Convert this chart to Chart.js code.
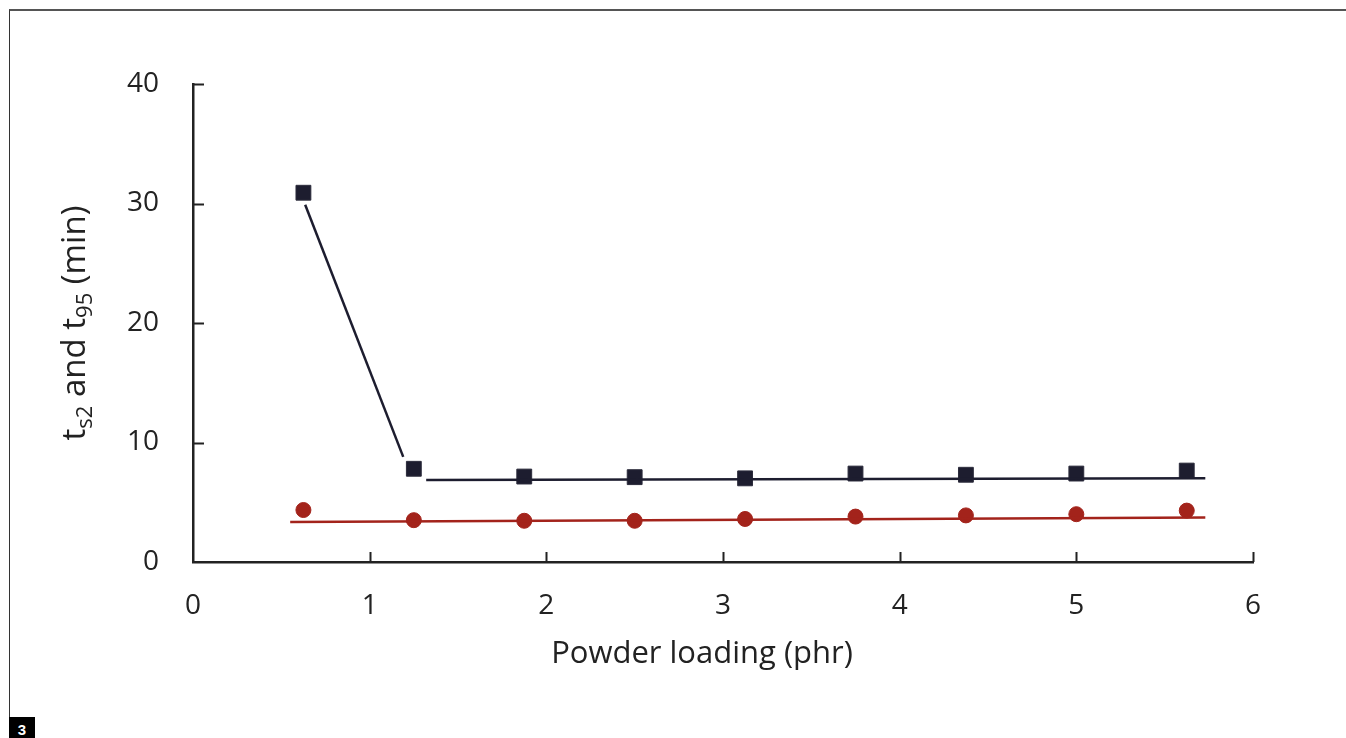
<!DOCTYPE html>
<html>
<head>
<meta charset="utf-8">
<script src="https://cdn.jsdelivr.net/npm/chart.js@4"></script>
<style>
  html, body { margin: 0; padding: 0; background: #fff; }
  #wrap { position: relative; width: 1346px; height: 738px; overflow: hidden; }
  #frame { position: absolute; left: 9px; top: 9px; width: 1400px; height: 706px;
           border-top: 2px solid #555; border-left: 1px solid #333; }
  #fig { position: absolute; left: 9px; top: 717px; width: 26px; height: 21px; background: #000;
         color: #fff; font: bold 15px "Liberation Sans", sans-serif; text-align: center; line-height: 25px; }
  canvas { position: absolute; left: 0; top: 0; }
</style>
</head>
<body>
<div id="wrap">
  <div id="frame"></div>
  <canvas id="chart" width="1346" height="738"></canvas>
  <div id="fig">3</div>
</div>
<script>
// powder loading (phr)
const loading = [0.625, 1.25, 1.875, 2.5, 3.125, 3.75, 4.375, 5, 5.625];
// t95 (squares) and ts2 (circles), minutes
const t95 = [30.9, 7.8, 7.15, 7.1, 7.0, 7.4, 7.3, 7.4, 7.65];
const ts2 = [4.35, 3.5, 3.45, 3.45, 3.6, 3.8, 3.9, 4.0, 4.3];
// drawn lines: drop segment and the two flat fits
const dropX = [0.635, 1.19];
const dropY = [29.9, 8.8];
const fit95X = [1.32, 5.73];
const fit95Y = [6.87, 7.0];
const fitS2X = [0.55, 5.73];
const fitS2Y = [3.35, 3.72];
const xTicks = [0, 1, 2, 3, 4, 5, 6];
const yTicks = [0, 10, 20, 30, 40];

const navy = '#1d1d2f';
const red = '#a3231b';
const font = '"Open Sans", "Noto Sans", sans-serif';

const pts = (xs, ys) => xs.map((x, i) => ({ x: x, y: ys[i] }));

// inward tick marks and axis titles (with subscripts)
const extras = {
  id: 'extras',
  afterDraw(chart) {
    const ctx = chart.ctx, xs = chart.scales.x, ys = chart.scales.y;
    const left = xs.left, bottom = ys.bottom;
    ctx.save();
    ctx.strokeStyle = '#222';
    ctx.lineWidth = 2;
    ctx.beginPath();
    xTicks.slice(1).forEach(v => {
      const px = Math.round(xs.getPixelForValue(v)) + 0.5;
      ctx.moveTo(px, bottom); ctx.lineTo(px, bottom - 10);
    });
    yTicks.slice(1).forEach(v => {
      const py = Math.round(ys.getPixelForValue(v)) + 0.5;
      ctx.moveTo(left, py); ctx.lineTo(left + 11, py);
    });
    ctx.stroke();

    // x title
    ctx.fillStyle = '#222';
    ctx.font = '31px ' + font;
    ctx.textAlign = 'center';
    ctx.textBaseline = 'middle';
    ctx.fillText('Powder loading (phr)', 702, 654);

    // y title: t_s2 and t_95 (min)
    const parts = [
      ['t', false], ['s2', true], [' and t', false], ['95', true], [' (min)', false]
    ];
    const big = '33px ' + font, small = '22px ' + font;
    let total = 0;
    parts.forEach(p => { ctx.font = p[1] ? small : big; total += ctx.measureText(p[0]).width; });
    ctx.translate(75, (ys.top + ys.bottom) / 2);
    ctx.rotate(-Math.PI / 2);
    ctx.textAlign = 'left';
    ctx.textBaseline = 'alphabetic';
    let cx = -total / 2;
    parts.forEach(p => {
      ctx.font = p[1] ? small : big;
      ctx.fillText(p[0], cx, p[1] ? 17 : 10);
      cx += ctx.measureText(p[0]).width;
    });
    ctx.restore();
  }
};

new Chart(document.getElementById('chart'), {
  type: 'scatter',
  data: {
    datasets: [
      {
        label: 'drop', data: pts(dropX, dropY), showLine: true,
        borderColor: navy, borderWidth: 2.5, pointRadius: 0
      },
      {
        label: 'fit t95', data: pts(fit95X, fit95Y), showLine: true,
        borderColor: navy, borderWidth: 2.5, pointRadius: 0
      },
      {
        label: 'fit ts2', data: pts(fitS2X, fitS2Y), showLine: true,
        borderColor: red, borderWidth: 2.5, pointRadius: 0
      },
      {
        label: 't95', data: pts(loading, t95), showLine: false,
        pointStyle: 'rect', pointRadius: 10.5, backgroundColor: navy,
        borderColor: '#2c2c3c', borderWidth: 1
      },
      {
        label: 'ts2', data: pts(loading, ts2), showLine: false,
        pointStyle: 'circle', pointRadius: 7.5, backgroundColor: red,
        borderColor: red, borderWidth: 1
      }
    ]
  },
  options: {
    responsive: false,
    animation: false,
    layout: { padding: { top: 84, right: 93, left: 0, bottom: 0 } },
    plugins: { legend: { display: false }, tooltip: { enabled: false } },
    scales: {
      x: {
        type: 'linear', min: 0, max: 6,
        afterBuildTicks: s => { s.ticks = xTicks.map(v => ({ value: v })); },
        afterFit: s => { s.height = 176; },
        grid: { display: false, drawTicks: false },
        border: { color: '#222', width: 2.5 },
        ticks: { color: '#222', font: { family: font, size: 28 }, padding: 27 }
      },
      y: {
        type: 'linear', min: 0, max: 40,
        afterBuildTicks: s => { s.ticks = yTicks.map(v => ({ value: v })); },
        afterFit: s => { s.width = 193; },
        grid: { display: false, drawTicks: false },
        border: { color: '#222', width: 2.5 },
        ticks: { color: '#222', font: { family: font, size: 28 }, padding: 34 }
      }
    }
  },
  plugins: [extras]
});
</script>
</body>
</html>
